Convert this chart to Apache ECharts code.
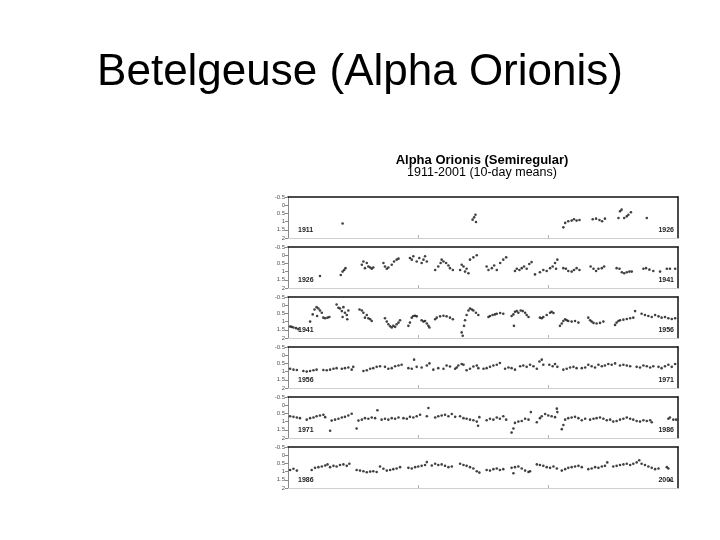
<!DOCTYPE html>
<html><head><meta charset="utf-8">
<script src="https://cdn.jsdelivr.net/npm/echarts@6/dist/echarts.min.js"></script>
<style>html,body{margin:0;padding:0;background:#fff}#c{width:720px;height:540px}</style>
</head><body><div id="c"></div>
<script>
// ---- DATA ----
const slideTitle = 'Betelgeuse (Alpha Orionis)';
const chartTitle = 'Alpha Orionis (Semiregular)';
const chartSubtitle = '1911-2001 (10-day means)';
const panelStarts = [1911, 1926, 1941, 1956, 1971, 1986];
const panelEnds = [1926, 1941, 1956, 1971, 1986, 2001];
const magTicks = [-0.5, 0, 0.5, 1, 1.5, 2];

const panel1911 = [[1913.10,1.12],[1918.10,0.88],[1918.16,0.74],[1918.21,0.58],[1918.23,1.02],[1921.59,1.35],[1921.66,1.08],[1921.78,0.98],[1921.91,0.94],[1922.00,0.86],[1922.10,0.94],[1922.21,0.90],[1922.72,0.86],[1922.85,0.82],[1922.98,0.90],[1923.08,0.98],[1923.19,0.82],[1923.71,0.78],[1923.77,0.37],[1923.83,0.27],[1923.93,0.78],[1924.03,0.68],[1924.09,0.58],[1924.19,0.43],[1924.80,0.78]];

const panel1926 = [[1927.23,1.27],[1928.03,1.21],[1928.10,1.00],[1928.16,0.90],[1928.21,0.79],[1928.84,0.58],[1928.90,0.38],[1928.96,0.79],[1929.03,0.48],[1929.09,0.69],[1929.16,0.75],[1929.22,0.83],[1929.28,0.75],[1929.67,0.48],[1929.73,0.69],[1929.80,0.83],[1929.86,0.75],[1929.99,0.58],[1930.08,0.38],[1930.18,0.27],[1930.25,0.21],[1930.69,0.17],[1930.76,0.27],[1930.82,0.06],[1930.95,0.38],[1931.05,0.17],[1931.14,0.48],[1931.21,0.27],[1931.27,0.06],[1931.34,0.38],[1931.66,0.90],[1931.78,0.69],[1931.87,0.48],[1931.91,0.27],[1931.98,0.38],[1932.08,0.48],[1932.17,0.63],[1932.23,0.79],[1932.34,0.90],[1932.62,0.90],[1932.68,0.58],[1932.75,0.69],[1932.81,1.00],[1932.87,0.83],[1932.94,1.10],[1933.00,0.27],[1933.13,0.13],[1933.26,0.00],[1933.64,0.69],[1933.71,0.90],[1933.84,0.79],[1933.93,0.63],[1934.03,0.90],[1934.16,0.48],[1934.28,0.27],[1934.39,0.13],[1934.73,0.96],[1934.80,0.83],[1934.90,0.90],[1934.99,0.79],[1935.08,0.69],[1935.18,0.83],[1935.28,0.54],[1935.37,0.42],[1935.50,1.17],[1935.69,1.04],[1935.82,0.90],[1935.95,0.96],[1936.08,0.79],[1936.18,0.69],[1936.27,0.48],[1936.31,0.83],[1936.36,0.27],[1936.59,0.79],[1936.69,0.83],[1936.78,0.96],[1936.91,1.00],[1937.00,0.90],[1937.10,0.79],[1937.21,0.90],[1937.64,0.69],[1937.75,0.83],[1937.85,0.96],[1937.94,0.83],[1938.07,0.79],[1938.16,0.69],[1938.64,0.79],[1938.75,0.83],[1938.84,1.04],[1938.93,1.10],[1939.03,1.04],[1939.13,1.00],[1939.22,1.00],[1939.67,0.83],[1939.77,0.79],[1939.90,0.88],[1940.05,0.96],[1940.31,1.00],[1940.57,0.83],[1940.69,0.83],[1940.89,0.83]];

const panel1941 = [[1941.08,1.30],[1941.14,1.32],[1941.21,1.36],[1941.31,1.40],[1941.40,1.46],[1941.85,1.00],[1941.95,0.56],[1942.02,0.26],[1942.10,0.12],[1942.12,0.66],[1942.17,0.20],[1942.23,0.32],[1942.30,0.46],[1942.36,0.76],[1942.43,0.80],[1942.52,0.76],[1942.59,0.72],[1942.87,-0.04],[1942.94,0.16],[1943.00,0.20],[1943.07,0.36],[1943.10,0.72],[1943.13,0.12],[1943.19,0.46],[1943.26,0.60],[1943.28,0.86],[1943.32,0.32],[1943.75,0.26],[1943.84,0.32],[1943.90,0.46],[1943.96,0.76],[1944.03,0.60],[1944.09,0.80],[1944.16,0.86],[1944.22,0.96],[1944.73,0.80],[1944.80,1.00],[1944.86,1.16],[1944.93,1.28],[1944.99,1.36],[1945.05,1.26],[1945.12,1.32],[1945.18,1.16],[1945.25,1.06],[1945.31,0.92],[1945.63,1.26],[1945.69,1.06],[1945.76,0.76],[1945.82,0.66],[1945.89,0.64],[1945.95,0.68],[1946.14,0.92],[1946.21,1.00],[1946.27,0.96],[1946.34,1.12],[1946.40,1.26],[1946.44,1.36],[1946.66,0.86],[1946.72,0.76],[1946.85,0.68],[1946.98,0.64],[1947.10,0.68],[1947.23,0.76],[1947.34,0.86],[1947.68,1.66],[1947.72,1.86],[1947.77,1.26],[1947.81,0.92],[1947.87,0.60],[1947.94,0.32],[1948.00,0.20],[1948.07,0.26],[1948.13,0.32],[1948.23,0.46],[1948.32,0.60],[1948.71,0.72],[1948.77,0.66],[1948.87,0.60],[1948.96,0.56],[1949.03,0.52],[1949.16,0.48],[1949.28,0.52],[1949.60,0.66],[1949.67,0.56],[1949.69,1.26],[1949.73,0.40],[1949.80,0.36],[1949.86,0.46],[1949.95,0.32],[1950.03,0.36],[1950.12,0.46],[1950.18,0.60],[1950.25,0.72],[1950.69,0.76],[1950.76,0.80],[1950.82,0.72],[1950.95,0.60],[1951.08,0.46],[1951.14,0.40],[1951.21,0.48],[1951.46,1.26],[1951.53,1.12],[1951.59,0.96],[1951.66,0.86],[1951.72,0.92],[1951.78,0.96],[1951.91,1.00],[1952.04,0.96],[1952.17,1.06],[1952.55,0.76],[1952.62,0.92],[1952.68,1.00],[1952.75,1.08],[1952.87,1.12],[1953.00,1.08],[1953.13,1.00],[1953.58,1.20],[1953.64,1.06],[1953.71,0.96],[1953.77,0.92],[1953.90,0.88],[1954.03,0.84],[1954.16,0.80],[1954.28,0.76],[1954.35,0.36],[1954.60,0.52],[1954.73,0.60],[1954.86,0.66],[1954.99,0.72],[1955.12,0.60],[1955.25,0.68],[1955.37,0.76],[1955.50,0.72],[1955.63,0.80],[1955.76,0.84],[1955.89,0.80]];

const panel1956 = [[1956.08,0.83],[1956.21,0.88],[1956.34,0.90],[1956.59,0.96],[1956.72,1.00],[1956.85,0.96],[1956.98,0.92],[1957.10,0.88],[1957.36,0.90],[1957.49,0.92],[1957.62,0.88],[1957.75,0.83],[1957.87,0.79],[1958.07,0.83],[1958.19,0.79],[1958.32,0.75],[1958.45,0.88],[1958.51,0.71],[1958.90,0.96],[1959.03,0.92],[1959.16,0.83],[1959.28,0.79],[1959.41,0.71],[1959.54,0.67],[1959.73,0.71],[1959.86,0.83],[1959.99,0.79],[1960.12,0.67],[1960.25,0.63],[1960.37,0.58],[1960.63,0.79],[1960.76,0.83],[1960.85,0.27],[1960.95,0.71],[1961.14,0.75],[1961.34,0.63],[1961.44,0.50],[1961.59,0.88],[1961.78,0.79],[1961.98,0.83],[1962.10,0.63],[1962.23,0.69],[1962.43,0.83],[1962.49,0.75],[1962.55,0.63],[1962.68,0.54],[1962.75,0.58],[1962.87,0.92],[1963.00,0.83],[1963.13,0.69],[1963.26,0.63],[1963.32,0.79],[1963.52,0.83],[1963.64,0.79],[1963.77,0.71],[1963.90,0.63],[1964.03,0.58],[1964.15,0.48],[1964.35,0.83],[1964.48,0.75],[1964.60,0.79],[1964.73,0.88],[1964.93,0.67],[1965.05,0.63],[1965.18,0.71],[1965.31,0.58],[1965.44,0.67],[1965.57,0.83],[1965.67,0.38],[1965.76,0.27],[1965.82,0.58],[1966.05,0.58],[1966.18,0.67],[1966.27,0.54],[1966.36,0.71],[1966.59,0.88],[1966.72,0.83],[1966.85,0.75],[1966.98,0.71],[1967.10,0.79],[1967.30,0.79],[1967.43,0.75],[1967.55,0.58],[1967.68,0.67],[1967.81,0.75],[1967.94,0.58],[1968.07,0.67],[1968.19,0.63],[1968.32,0.54],[1968.45,0.58],[1968.58,0.50],[1968.77,0.63],[1968.90,0.58],[1969.03,0.63],[1969.16,0.67],[1969.41,0.71],[1969.54,0.75],[1969.67,0.63],[1969.80,0.67],[1969.93,0.75],[1970.05,0.67],[1970.25,0.71],[1970.37,0.79],[1970.50,0.67],[1970.63,0.58],[1970.76,0.71],[1970.89,0.54]];

const panel1971 = [[1971.08,0.67],[1971.21,0.71],[1971.34,0.75],[1971.46,0.79],[1971.72,0.88],[1971.85,0.79],[1971.98,0.75],[1972.10,0.67],[1972.23,0.63],[1972.36,0.58],[1972.43,0.73],[1972.62,1.56],[1972.68,0.94],[1972.81,0.88],[1972.94,0.83],[1973.07,0.75],[1973.19,0.71],[1973.32,0.63],[1973.45,0.52],[1973.64,1.42],[1973.71,0.94],[1973.84,0.88],[1973.96,0.79],[1974.09,0.83],[1974.22,0.75],[1974.35,0.79],[1974.44,0.31],[1974.60,0.88],[1974.73,0.83],[1974.86,0.88],[1974.99,0.79],[1975.12,0.83],[1975.25,0.75],[1975.44,0.79],[1975.57,0.83],[1975.69,0.71],[1975.82,0.75],[1975.95,0.67],[1976.08,0.58],[1976.34,0.67],[1976.40,0.17],[1976.66,0.75],[1976.78,0.67],[1976.91,0.63],[1977.04,0.58],[1977.17,0.67],[1977.30,0.54],[1977.43,0.71],[1977.62,0.67],[1977.75,0.79],[1977.87,0.83],[1978.00,0.88],[1978.13,0.92],[1978.26,1.00],[1978.31,1.25],[1978.36,0.73],[1978.64,0.92],[1978.77,0.83],[1978.90,0.88],[1979.03,0.75],[1979.15,0.83],[1979.28,0.67],[1979.39,0.88],[1979.60,1.67],[1979.67,1.42],[1979.73,1.08],[1979.86,1.00],[1979.99,0.96],[1980.12,0.83],[1980.25,0.88],[1980.34,0.42],[1980.57,1.04],[1980.69,0.79],[1980.76,0.67],[1980.89,0.54],[1981.01,0.63],[1981.14,0.67],[1981.27,0.73],[1981.34,0.21],[1981.36,0.42],[1981.53,1.46],[1981.59,1.21],[1981.66,0.88],[1981.78,0.79],[1981.91,0.75],[1982.04,0.71],[1982.17,0.79],[1982.30,0.92],[1982.43,0.83],[1982.62,0.88],[1982.75,0.83],[1982.87,0.79],[1983.00,0.75],[1983.13,0.83],[1983.26,0.92],[1983.39,0.88],[1983.51,1.00],[1983.64,0.96],[1983.77,0.88],[1983.90,0.83],[1984.03,0.75],[1984.16,0.83],[1984.28,0.88],[1984.41,0.96],[1984.54,1.00],[1984.67,0.92],[1984.80,0.96],[1984.93,0.92],[1984.99,1.04],[1985.63,0.83],[1985.69,0.75],[1985.82,0.88],[1985.93,0.88]];

const panel1986 = [[1986.08,0.90],[1986.21,0.83],[1986.34,0.94],[1986.91,0.90],[1987.04,0.77],[1987.17,0.73],[1987.30,0.69],[1987.43,0.63],[1987.52,0.56],[1987.62,0.73],[1987.75,0.65],[1987.87,0.69],[1988.00,0.60],[1988.13,0.56],[1988.26,0.65],[1988.36,0.52],[1988.64,0.90],[1988.77,0.94],[1988.90,0.98],[1989.03,1.04],[1989.16,1.00],[1989.28,0.98],[1989.41,1.02],[1989.54,0.69],[1989.67,0.83],[1989.80,0.94],[1989.93,0.90],[1990.05,0.85],[1990.18,0.81],[1990.31,0.73],[1990.63,0.77],[1990.76,0.81],[1990.89,0.73],[1991.01,0.69],[1991.14,0.65],[1991.27,0.60],[1991.34,0.42],[1991.53,0.63],[1991.66,0.52],[1991.78,0.60],[1991.91,0.56],[1992.04,0.65],[1992.17,0.73],[1992.30,0.69],[1992.62,0.52],[1992.75,0.60],[1992.87,0.65],[1993.00,0.73],[1993.13,0.81],[1993.26,0.98],[1993.36,1.06],[1993.64,0.90],[1993.77,0.94],[1993.90,0.85],[1994.03,0.81],[1994.15,0.90],[1994.28,0.85],[1994.60,0.77],[1994.67,1.10],[1994.73,0.73],[1994.86,0.69],[1994.99,0.81],[1995.12,0.94],[1995.25,1.02],[1995.31,0.98],[1995.57,0.56],[1995.69,0.60],[1995.82,0.65],[1995.95,0.73],[1996.08,0.77],[1996.21,0.69],[1996.34,0.81],[1996.53,0.94],[1996.66,0.85],[1996.78,0.77],[1996.91,0.73],[1997.04,0.69],[1997.17,0.65],[1997.30,0.73],[1997.55,0.85],[1997.68,0.81],[1997.81,0.73],[1997.94,0.77],[1998.07,0.69],[1998.19,0.65],[1998.28,0.44],[1998.51,0.69],[1998.64,0.65],[1998.77,0.60],[1998.90,0.56],[1999.03,0.52],[1999.16,0.60],[1999.28,0.52],[1999.41,0.44],[1999.51,0.31],[1999.60,0.52],[1999.73,0.60],[1999.86,0.69],[1999.99,0.77],[2000.12,0.85],[2000.25,0.81],[2000.57,0.73],[2000.63,0.81],[2000.69,1.52]];

const panels = [panel1911, panel1926, panel1941, panel1956, panel1971, panel1986];

// ---- LAYOUT / STYLE ----
const TOP0 = 197, PITCH = 50, H = 41, LEFT = 288, RIGHT = 42;
const FONT = 'Liberation Sans, Arial, sans-serif';

const grid = [], xAxis = [], yAxis = [], series = [], graphic = [];
panels.forEach((data, i) => {
  const top = TOP0 + i * PITCH;
  grid.push({left: LEFT, right: RIGHT, top: top, height: H, containLabel: false});
  const s = panelStarts[i], e = panelEnds[i];
  xAxis.push({gridIndex: i, type: 'value', min: s, max: e, position: 'bottom',
    axisLabel: {show: false}, splitLine: {show: false},
    axisLine: {onZero: false, lineStyle: {color: '#cfcfcf', width: 1}},
    axisTick: {show: true, inside: true, length: 3, customValues: [s + 5, s + 10], lineStyle: {color: '#b5b5b5'}}});
  xAxis.push({gridIndex: i, type: 'value', min: s, max: e, position: 'top',
    axisLabel: {show: false}, splitLine: {show: false}, axisTick: {show: false},
    axisLine: {onZero: false, lineStyle: {color: '#111', width: 1.5}}});
  yAxis.push({gridIndex: i, type: 'value', inverse: true, min: -0.5, max: 2, interval: 0.5, position: 'left',
    splitLine: {show: false},
    axisLine: {onZero: false, lineStyle: {color: '#888', width: 1}},
    axisTick: {show: true, length: 3, lineStyle: {color: '#888'}},
    axisLabel: {fontSize: 6, color: '#555', margin: 3, fontFamily: FONT,
      formatter: v => magTicks.indexOf(v) >= 0 ? String(v) : ''}});
  yAxis.push({gridIndex: i, type: 'value', inverse: true, min: -0.5, max: 2, position: 'right',
    splitLine: {show: false}, axisTick: {show: false}, axisLabel: {show: false},
    axisLine: {onZero: false, lineStyle: {color: '#111', width: 1.5}}});
  series.push({type: 'scatter', xAxisIndex: 2 * i, yAxisIndex: 2 * i, data: data,
    symbol: 'circle', symbolSize: 2.6, itemStyle: {color: '#111'}, silent: true});
  graphic.push({type: 'text', left: 298, top: top + H - 11,
    style: {text: String(s), font: 'bold 7px ' + FONT, fill: '#222'}});
  graphic.push({type: 'text', right: 720 - 674, top: top + H - 11,
    style: {text: String(e), font: 'bold 7px ' + FONT, fill: '#222'}});
});
graphic.push({type: 'text', left: 'center', top: 51,
  style: {text: slideTitle, font: '44px ' + FONT, fill: '#000'}});
graphic.push({type: 'text', x: 482, y: 160,
  style: {text: chartTitle, font: 'bold 13px ' + FONT, fill: '#000', textAlign: 'center', textVerticalAlign: 'middle'}});
graphic.push({type: 'text', x: 482, y: 173,
  style: {text: chartSubtitle, font: '12.5px ' + FONT, fill: '#000', textAlign: 'center', textVerticalAlign: 'middle'}});

const chart = echarts.init(document.getElementById('c'), null, {renderer: 'canvas'});
chart.setOption({backgroundColor: '#fff', animation: false, grid, xAxis, yAxis, series, graphic});
</script></body></html>
